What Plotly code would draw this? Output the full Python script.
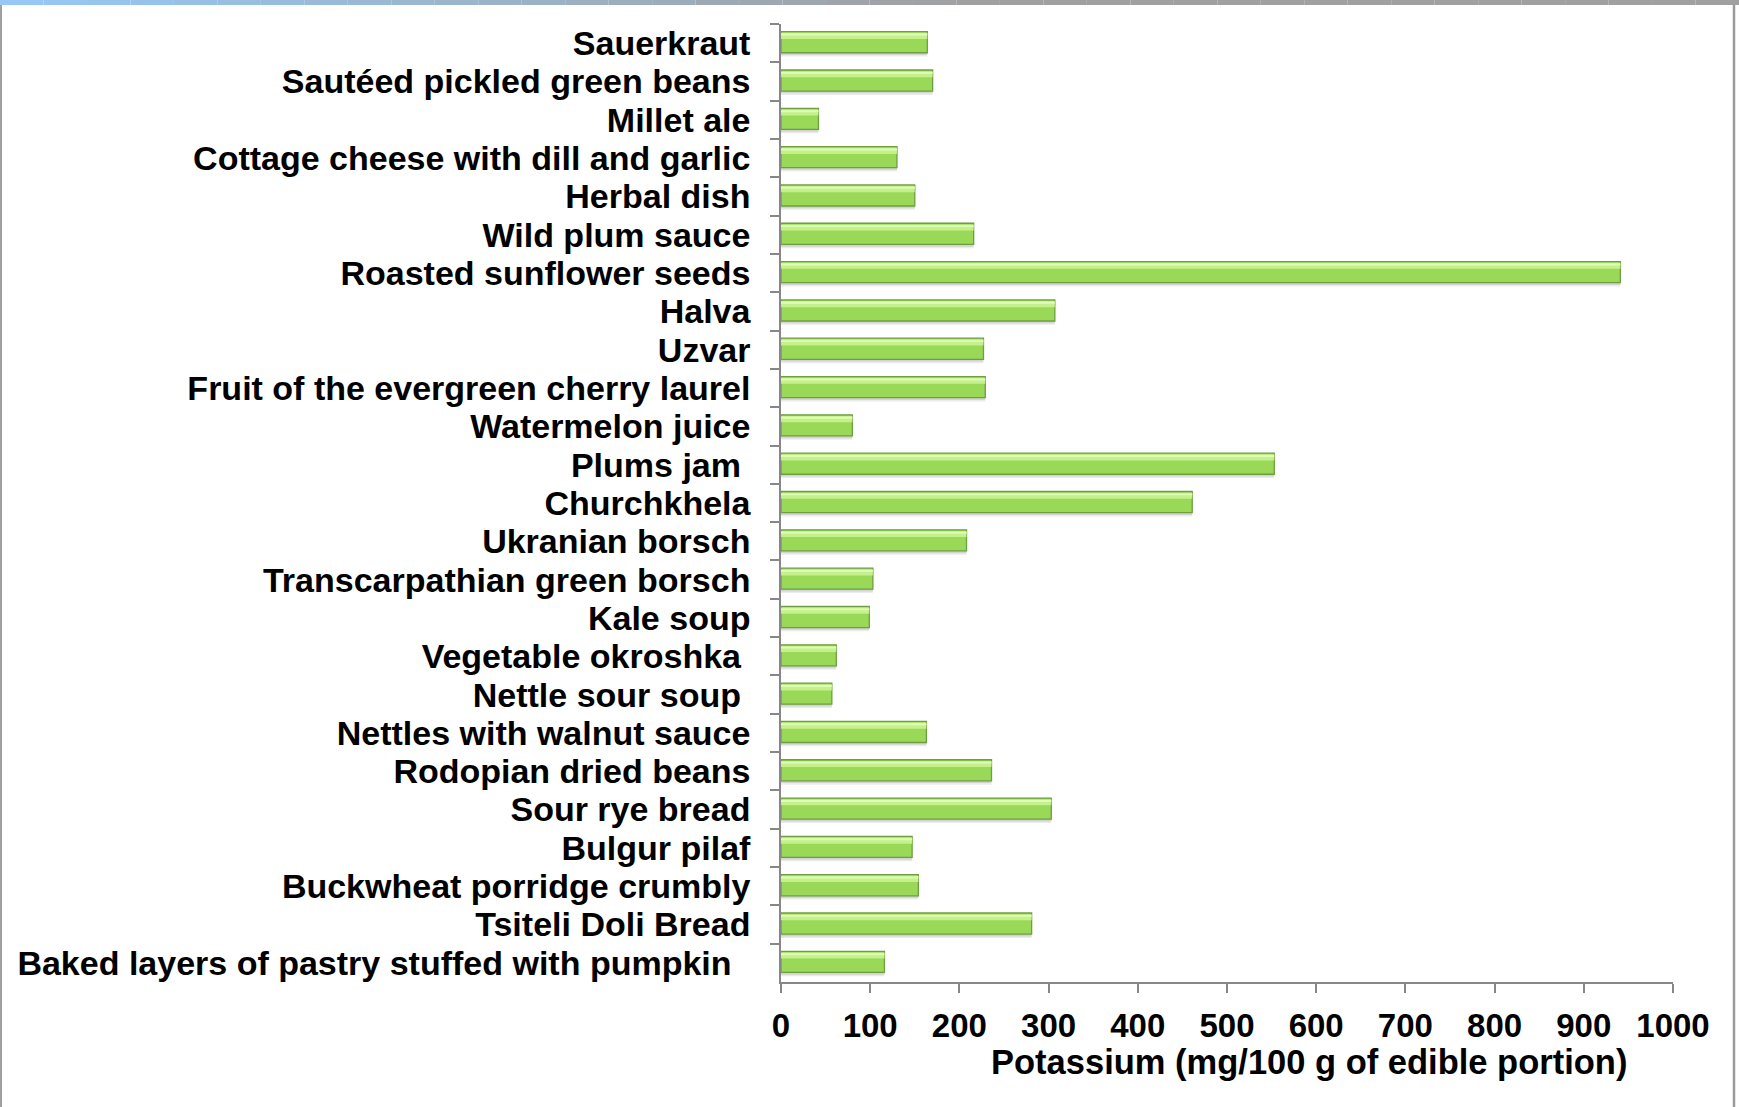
import plotly.graph_objects as go

# Potassium content of traditional foods (mg per 100 g of edible portion), top to bottom
foods = [
    "Sauerkraut",
    "Sautéed pickled green beans",
    "Millet ale",
    "Cottage cheese with dill and garlic",
    "Herbal dish",
    "Wild plum sauce",
    "Roasted sunflower seeds",
    "Halva",
    "Uzvar",
    "Fruit of the evergreen cherry laurel",
    "Watermelon juice",
    "Plums jam\u00a0",
    "Churchkhela",
    "Ukranian borsch",
    "Transcarpathian green borsch",
    "Kale soup",
    "Vegetable okroshka\u00a0",
    "Nettle sour soup\u00a0",
    "Nettles with walnut sauce",
    "Rodopian dried beans",
    "Sour rye bread",
    "Bulgur pilaf",
    "Buckwheat porridge crumbly",
    "Tsiteli Doli Bread",
    "Baked layers of pastry stuffed with pumpkin\u00a0\u00a0",
]
potassium = [
    164, 170, 42, 130, 150, 216, 941, 307, 227, 229, 80, 553, 461,
    208, 103, 99, 62, 57, 163, 236, 303, 147, 154, 281, 116,
]
x_ticks = [0, 100, 200, 300, 400, 500, 600, 700, 800, 900, 1000]
x_title = "Potassium (mg/100 g of edible portion)"

W, H = 1739, 1107
L, R, T, B = 781, 66, 24, 125
FONT = "Arial, Liberation Sans, sans-serif"
AXIS_GREY = "#878787"

BAR_W = 0.55
BAR_OFF = -0.30

fig = go.Figure()

# soft drop shadow under each bar
for dy, alpha in [(0.10, 0.08), (0.06, 0.10)]:
    fig.add_trace(go.Bar(
        y=foods, x=potassium, orientation="h",
        width=BAR_W, offset=BAR_OFF + dy,
        marker=dict(color=f"rgba(0,0,0,{alpha})", line=dict(width=0)),
        hoverinfo="skip", showlegend=False,
    ))

# main green bar
fig.add_trace(go.Bar(
    y=foods, x=potassium, orientation="h",
    width=BAR_W, offset=BAR_OFF,
    marker=dict(color="#99d957", line=dict(color="#6f9e40", width=1.3)),
    showlegend=False,
))

# glossy highlight along the top edge
fig.add_trace(go.Bar(
    y=foods, x=potassium, orientation="h",
    width=0.16, offset=BAR_OFF + 0.03,
    marker=dict(color="rgba(205,245,150,0.85)", line=dict(width=0)),
    hoverinfo="skip", showlegend=False,
))
fig.add_trace(go.Bar(
    y=foods, x=potassium, orientation="h",
    width=0.05, offset=BAR_OFF + 0.05,
    marker=dict(color="rgba(225,255,185,0.9)", line=dict(width=0)),
    hoverinfo="skip", showlegend=False,
))

fig.update_layout(
    width=W, height=H,
    margin=dict(l=L, r=R, t=T, b=B, autoexpand=False),
    paper_bgcolor="white", plot_bgcolor="white",
    barmode="overlay",
    font=dict(family=FONT, color="black"),
    xaxis=dict(
        range=[0, 1000], tickmode="array", tickvals=x_ticks,
        ticks="outside", ticklen=9, tickcolor=AXIS_GREY, tickwidth=1.5,
        showline=True, linecolor=AXIS_GREY, linewidth=1.5,
        showgrid=False, zeroline=False,
        tickfont=dict(family=FONT, size=33, weight="bold", color="black"),
        ticklabelstandoff=5,
    ),
    yaxis=dict(
        type="category", autorange="reversed",
        tickmode="linear", tick0=0, dtick=1,
        tickson="boundaries",
        ticks="outside", ticklen=9, tickcolor=AXIS_GREY, tickwidth=1.5,
        showline=True, linecolor=AXIS_GREY, linewidth=1.5,
        showgrid=False, zeroline=False,
        tickfont=dict(family=FONT, size=34, weight="bold", color="black"),
        ticklabelstandoff=22,
    ),
)

# axis title, placed under the right half of the scale
fig.add_annotation(
    text=x_title, xref="paper", yref="paper",
    x=(1309 - L) / (W - L - R), y=-(1062 - (H - B)) / (H - T - B),
    xanchor="center", yanchor="middle", showarrow=False,
    font=dict(family=FONT, size=34.5, weight="bold", color="black"),
)

# slide frame: grey side rules and a blue-to-grey top rule
pw, ph = W - L - R, H - T - B
def px(x):
    return (x - L) / pw
def py(y):
    return (H - B - y) / ph

shapes = [
    dict(type="line", xref="paper", yref="paper", x0=px(1), x1=px(1), y0=py(0), y1=py(H),
         line=dict(color="#a0a0a0", width=2)),
    dict(type="line", xref="paper", yref="paper", x0=px(1734), x1=px(1734), y0=py(0), y1=py(H),
         line=dict(color="#9a9a9a", width=2.5)),
]
n_seg = 40
c0, c1 = (150, 200, 245), (160, 160, 160)
for i in range(n_seg):
    t = i / (n_seg - 1)
    tt = min(1.0, t * 1.8)
    col = tuple(int(c0[k] + (c1[k] - c0[k]) * tt) for k in range(3))
    x0 = W * i / n_seg
    x1 = W * (i + 1) / n_seg
    shapes.append(dict(type="rect", xref="paper", yref="paper",
                       x0=px(x0), x1=px(x1), y0=py(5), y1=py(0),
                       fillcolor=f"rgb{col}", line=dict(width=0), layer="above"))
fig.update_layout(shapes=shapes)

fig.write_html("out.html")
